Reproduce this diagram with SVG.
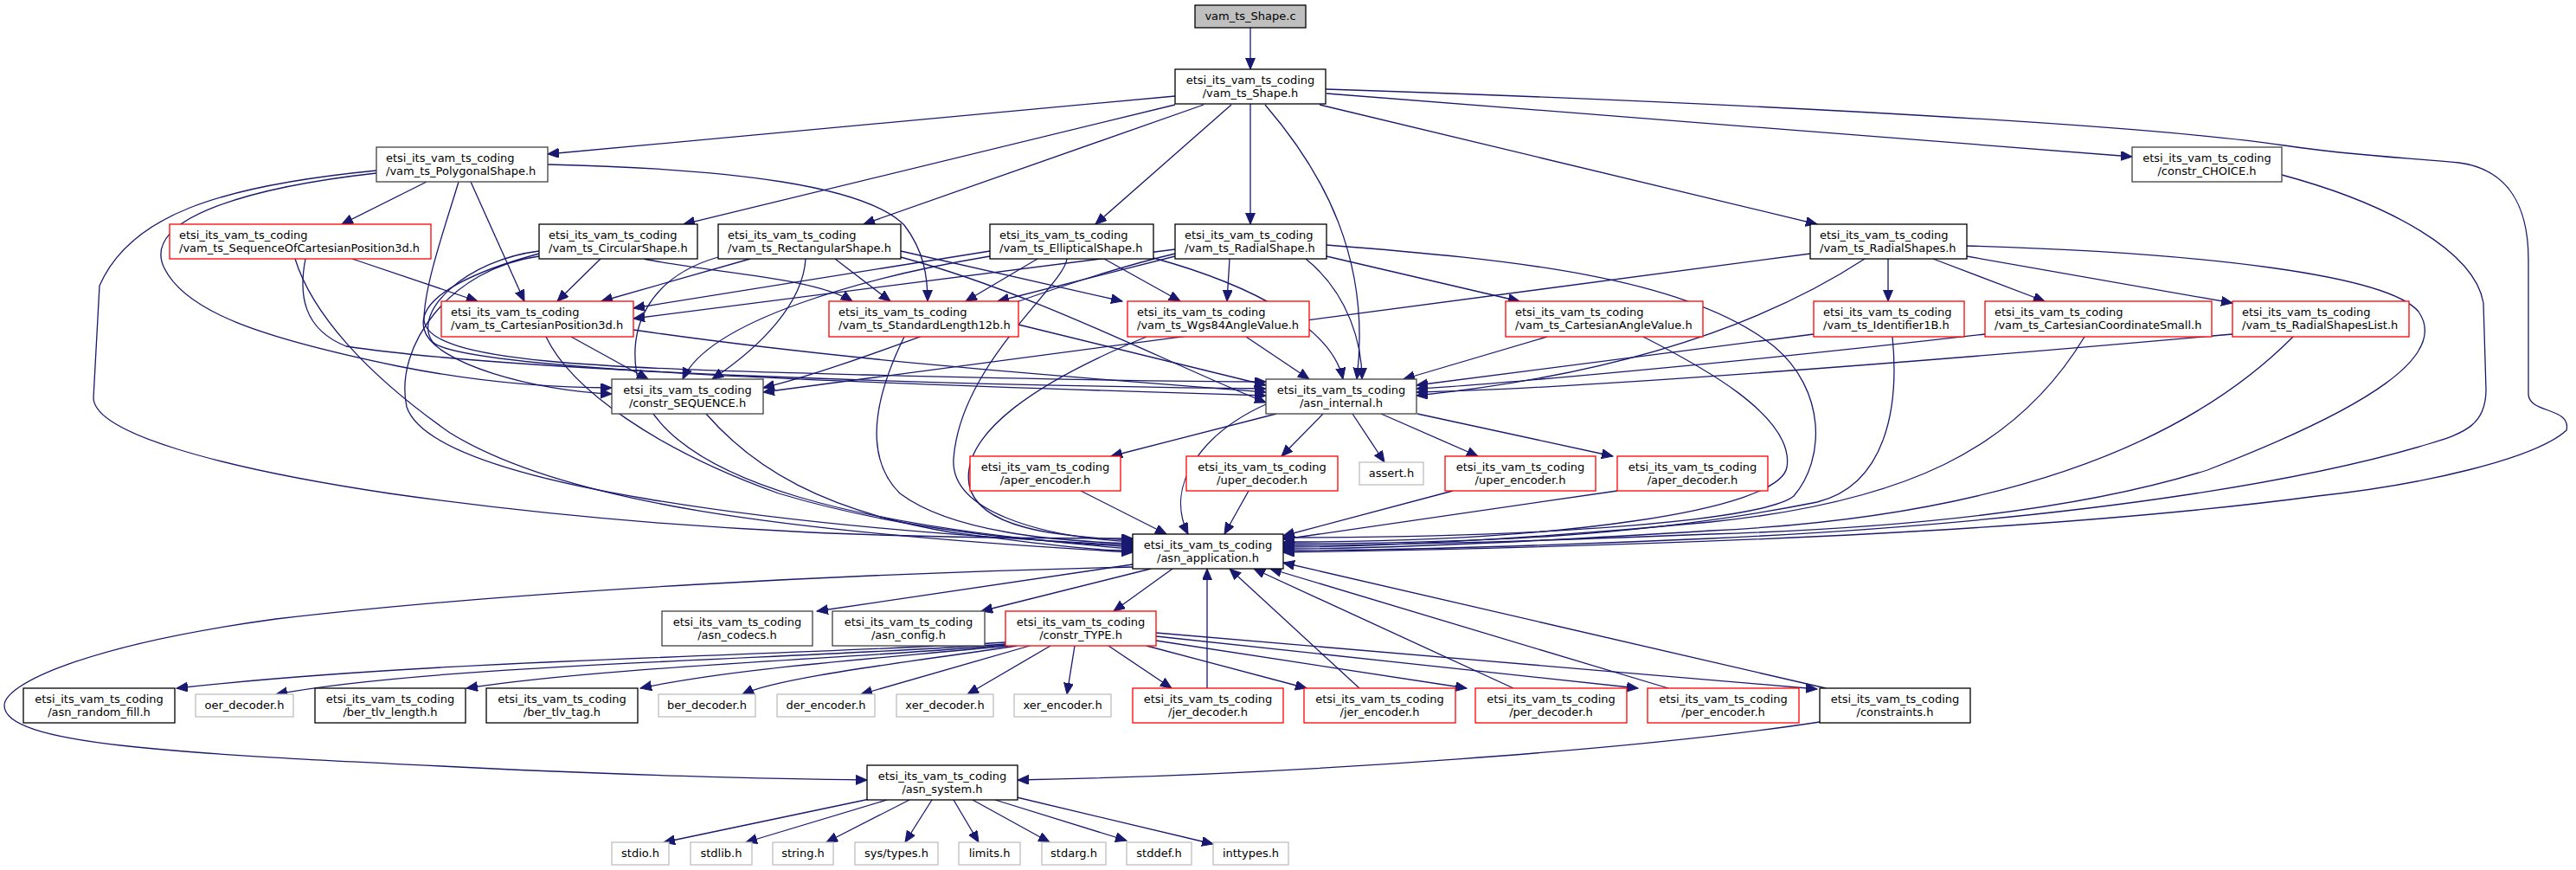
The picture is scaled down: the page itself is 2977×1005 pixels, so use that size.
<svg xmlns="http://www.w3.org/2000/svg" width="2977" height="1005" viewBox="0 0 2977 1005">
<defs>
<style>
.e{fill:none;stroke:#191970;stroke-width:1.3;marker-end:url(#ah)}
rect{fill:#fff;stroke-width:1.3}
.k rect{stroke:#000}
.d rect{stroke:#404040}
.r rect{stroke:#ff0000}
.g rect{stroke:#bfbfbf}
.t rect{fill:#bfbfbf;stroke:#000}
text{font-family:"DejaVu Sans","Liberation Sans",sans-serif;font-size:13px;fill:#000}
.m{text-anchor:middle}
</style>
<marker id="ah" markerUnits="userSpaceOnUse" markerWidth="14" markerHeight="12" refX="13" refY="5.5" orient="auto"><path d="M0,0 L13,5.5 L0,11 Z" fill="#191970" stroke="#191970" stroke-width="1"/></marker>
</defs>
<rect x="0" y="0" width="2977" height="1005" style="fill:#fff;stroke:none"/>
<g id="edges">
<path class="e" d="M1445,32 L1445,80"/>
<path class="e" d="M1358,111 L633,178"/>
<path class="e" d="M1358,121 L790,259"/>
<path class="e" d="M1391,121 L998,259"/>
<path class="e" d="M1423,121 L1266,259"/>
<path class="e" d="M1445,120 L1445,259"/>
<path class="e" d="M1462,121 C1530,200 1585,300 1568,438"/>
<path class="e" d="M1525,121 L2100,259"/>
<path class="e" d="M1533,108 L2464,181"/>
<path class="e" d="M1532,103 C1900,115 2450,140 2640,168 C2720,180 2780,182 2842,188 C2900,196 2922,240 2922,300 L2922,455 C2922,478 2972,470 2966,497 C2930,530 2800,560 2678,573 C2400,610 2000,630 1483,638"/>
<path class="e" d="M493,210 L395,259"/>
<path class="e" d="M544,210 L606,348"/>
<path class="e" d="M633,190 C850,195 1000,215 1045,260 C1068,290 1072,320 1072,348"/>
<path class="e" d="M435,200 C300,215 160,250 190,310 C215,360 300,390 460,423 C560,443 650,448 707,448"/>
<path class="e" d="M435,197 C250,215 150,250 115,330 L108,460 C110,500 250,540 450,570 C800,620 1100,622 1309,622"/>
<path class="e" d="M530,210 C515,260 490,330 490,370 C495,420 700,425 1000,433 C1200,438 1350,441 1463,441"/>
<path class="e" d="M407,299 L552,348"/>
<path class="e" d="M353,299 C345,340 350,380 400,400 C600,430 1100,445 1463,449"/>
<path class="e" d="M341,299 C360,360 420,430 520,500 C650,580 900,615 1309,638"/>
<path class="e" d="M694,299 L644,348"/>
<path class="e" d="M744,299 C820,315 940,320 985,348"/>
<path class="e" d="M623,293 C560,310 480,340 490,380 C500,420 620,452 707,455"/>
<path class="e" d="M623,290 C540,300 475,360 500,395 C530,425 900,440 1463,457"/>
<path class="e" d="M623,296 C520,310 455,400 470,470 C500,560 900,610 1309,630"/>
<path class="e" d="M867,299 L695,348"/>
<path class="e" d="M965,299 L1029,348"/>
<path class="e" d="M1041,290 L1297,348"/>
<path class="e" d="M931,299 C928,350 880,400 823,438"/>
<path class="e" d="M1041,297 C1200,340 1350,420 1463,465"/>
<path class="e" d="M830,297 C750,320 720,380 740,450 C780,560 1000,610 1309,634"/>
<path class="e" d="M1144,290 L732,356"/>
<path class="e" d="M1199,299 L1116,348"/>
<path class="e" d="M1276,299 L1364,348"/>
<path class="e" d="M1144,296 C1000,320 820,370 789,438"/>
<path class="e" d="M1333,298 C1450,330 1540,380 1552,438"/>
<path class="e" d="M1233,299 C1230,330 1110,420 1102,530 C1098,590 1200,620 1309,626"/>
<path class="e" d="M1358,288 L732,368"/>
<path class="e" d="M1358,296 L1153,348"/>
<path class="e" d="M1421,299 L1418,348"/>
<path class="e" d="M1533,296 L1756,348"/>
<path class="e" d="M1358,293 C1200,330 1000,420 882,448"/>
<path class="e" d="M1509,299 C1560,340 1574,400 1574,438"/>
<path class="e" d="M1533,283 C1750,300 1950,320 2050,400 C2110,450 2110,530 2073,573 C2040,600 1800,621 1483,621"/>
<path class="e" d="M2182,299 L2182,348"/>
<path class="e" d="M2234,299 L2363,348"/>
<path class="e" d="M2273,296 L2580,350"/>
<path class="e" d="M2092,293 L882,453"/>
<path class="e" d="M2155,299 C2000,400 1800,440 1637,457"/>
<path class="e" d="M2273,284 C2550,292 2760,318 2795,360 C2830,410 2740,470 2551,543 C2400,590 2200,610 1977,617 C1800,624 1600,630 1483,630"/>
<path class="e" d="M660,389 L749,438"/>
<path class="e" d="M732,381 C1000,420 1300,440 1463,453"/>
<path class="e" d="M631,389 C660,450 760,520 900,570 C1050,615 1200,625 1309,632"/>
<path class="e" d="M1177,375 L1463,445"/>
<path class="e" d="M1045,389 C1020,440 990,520 1040,570 C1100,615 1220,625 1309,628"/>
<path class="e" d="M1440,389 L1513,438"/>
<path class="e" d="M1325,389 C1200,440 1110,500 1120,560 C1130,610 1220,620 1309,624"/>
<path class="e" d="M1788,389 L1622,438"/>
<path class="e" d="M1899,389 C1960,420 2075,480 2065,540 C2055,590 1800,626 1483,626"/>
<path class="e" d="M2096,386 L1637,445"/>
<path class="e" d="M2187,389 C2195,470 2180,560 2100,580 C1900,620 1700,628 1483,628"/>
<path class="e" d="M2294,386 C2000,420 1700,446 1637,449"/>
<path class="e" d="M2409,389 C2330,520 2200,580 1977,603 C1800,620 1600,632 1483,632"/>
<path class="e" d="M2580,386 C2200,420 1800,450 1637,453"/>
<path class="e" d="M2650,389 C2500,540 2250,600 1977,613 C1800,624 1600,634 1483,634"/>
<path class="e" d="M2637,202 C2760,235 2860,290 2870,350 L2873,450 C2873,490 2850,500 2806,513 C2700,545 2450,600 1977,622 C1800,630 1600,636 1483,636"/>
<path class="e" d="M816,478 C870,540 950,590 1100,615 C1200,628 1260,636 1309,636"/>
<path class="e" d="M1475,478 L1284,527"/>
<path class="e" d="M1529,478 L1481,527"/>
<path class="e" d="M1563,478 L1600,534"/>
<path class="e" d="M1596,478 L1708,527"/>
<path class="e" d="M1638,478 L1864,527"/>
<path class="e" d="M1463,467 C1390,500 1345,560 1373,617"/>
<path class="e" d="M1249,567 L1348,617"/>
<path class="e" d="M1443,567 L1415,617"/>
<path class="e" d="M1679,567 L1483,619"/>
<path class="e" d="M1869,567 L1483,623"/>
<path class="e" d="M1309,652 L944,706"/>
<path class="e" d="M1330,657 L1134,706"/>
<path class="e" d="M1355,657 L1287,706"/>
<path class="e" d="M1309,655 C1000,662 600,682 319,715 C100,745 5,790 5,815 C5,860 200,870 510,885 C700,895 900,900 1002,901"/>
<path class="e" d="M1162,742 C900,758 500,762 204,795"/>
<path class="e" d="M1162,744 C900,762 500,768 319,802"/>
<path class="e" d="M1162,745 C1000,760 700,770 539,795"/>
<path class="e" d="M1165,746 C1000,762 850,772 740,795"/>
<path class="e" d="M1175,746 C1050,765 900,782 858,802"/>
<path class="e" d="M1190,746 L995,802"/>
<path class="e" d="M1214,746 L1118,802"/>
<path class="e" d="M1242,746 L1233,802"/>
<path class="e" d="M1281,746 L1354,795"/>
<path class="e" d="M1325,746 L1510,795"/>
<path class="e" d="M1336,740 L1695,795"/>
<path class="e" d="M1336,735 L1893,795"/>
<path class="e" d="M1336,731 L2100,796"/>
<path class="e" d="M1395,795 L1395,657"/>
<path class="e" d="M1571,795 L1421,657"/>
<path class="e" d="M1749,795 L1449,657"/>
<path class="e" d="M1928,795 L1468,657"/>
<path class="e" d="M2110,795 L1483,650"/>
<path class="e" d="M2103,834 C1900,865 1500,895 1176,901"/>
<path class="e" d="M1005,923 L767,973"/>
<path class="e" d="M1025,924 L862,973"/>
<path class="e" d="M1051,924 L955,973"/>
<path class="e" d="M1077,924 L1046,973"/>
<path class="e" d="M1102,924 L1131,973"/>
<path class="e" d="M1124,924 L1213,973"/>
<path class="e" d="M1150,924 L1302,971"/>
<path class="e" d="M1175,921 L1402,975"/>
</g>
<g id="n_c" class="t"><rect x="1381" y="6" width="128" height="26"/><text class="m" x="1445" y="23">vam_ts_Shape.c</text></g>
<g id="n_shape" class="k"><rect x="1358" y="80" width="174" height="40"/><text class="m" x="1445" y="97">etsi_its_vam_ts_coding</text><text class="m" x="1445" y="112">/vam_ts_Shape.h</text></g>
<g id="n_poly" class="d"><rect x="435" y="170" width="198" height="40"/><text x="446" y="187">etsi_its_vam_ts_coding</text><text x="446" y="202">/vam_ts_PolygonalShape.h</text></g>
<g id="n_choice" class="d"><rect x="2464" y="170" width="173" height="40"/><text class="m" x="2550.5" y="187">etsi_its_vam_ts_coding</text><text class="m" x="2550.5" y="202">/constr_CHOICE.h</text></g>
<g id="n_seqcart" class="r"><rect x="196" y="259" width="302" height="40"/><text x="207" y="276">etsi_its_vam_ts_coding</text><text x="207" y="291">/vam_ts_SequenceOfCartesianPosition3d.h</text></g>
<g id="n_circ" class="k"><rect x="623" y="259" width="183" height="40"/><text x="634" y="276">etsi_its_vam_ts_coding</text><text x="634" y="291">/vam_ts_CircularShape.h</text></g>
<g id="n_rect" class="k"><rect x="830" y="259" width="211" height="40"/><text x="841" y="276">etsi_its_vam_ts_coding</text><text x="841" y="291">/vam_ts_RectangularShape.h</text></g>
<g id="n_ellip" class="k"><rect x="1144" y="259" width="189" height="40"/><text x="1155" y="276">etsi_its_vam_ts_coding</text><text x="1155" y="291">/vam_ts_EllipticalShape.h</text></g>
<g id="n_radial" class="k"><rect x="1358" y="259" width="175" height="40"/><text x="1369" y="276">etsi_its_vam_ts_coding</text><text x="1369" y="291">/vam_ts_RadialShape.h</text></g>
<g id="n_radials" class="k"><rect x="2092" y="259" width="181" height="40"/><text x="2103" y="276">etsi_its_vam_ts_coding</text><text x="2103" y="291">/vam_ts_RadialShapes.h</text></g>
<g id="n_cp" class="r"><rect x="510" y="348" width="222" height="41"/><text x="521" y="365">etsi_its_vam_ts_coding</text><text x="521" y="380">/vam_ts_CartesianPosition3d.h</text></g>
<g id="n_sl" class="r"><rect x="958" y="348" width="219" height="41"/><text x="969" y="365">etsi_its_vam_ts_coding</text><text x="969" y="380">/vam_ts_StandardLength12b.h</text></g>
<g id="n_wgs" class="r"><rect x="1303" y="348" width="210" height="41"/><text x="1314" y="365">etsi_its_vam_ts_coding</text><text x="1314" y="380">/vam_ts_Wgs84AngleValue.h</text></g>
<g id="n_ca" class="r"><rect x="1740" y="348" width="228" height="41"/><text x="1751" y="365">etsi_its_vam_ts_coding</text><text x="1751" y="380">/vam_ts_CartesianAngleValue.h</text></g>
<g id="n_id" class="r"><rect x="2096" y="348" width="174" height="41"/><text x="2107" y="365">etsi_its_vam_ts_coding</text><text x="2107" y="380">/vam_ts_Identifier1B.h</text></g>
<g id="n_ccs" class="r"><rect x="2294" y="348" width="262" height="41"/><text x="2305" y="365">etsi_its_vam_ts_coding</text><text x="2305" y="380">/vam_ts_CartesianCoordinateSmall.h</text></g>
<g id="n_rsl" class="r"><rect x="2580" y="348" width="204" height="41"/><text x="2591" y="365">etsi_its_vam_ts_coding</text><text x="2591" y="380">/vam_ts_RadialShapesList.h</text></g>
<g id="n_seq" class="d"><rect x="707" y="438" width="175" height="40"/><text class="m" x="794.5" y="455">etsi_its_vam_ts_coding</text><text class="m" x="794.5" y="470">/constr_SEQUENCE.h</text></g>
<g id="n_int" class="d"><rect x="1463" y="438" width="174" height="40"/><text class="m" x="1550" y="455">etsi_its_vam_ts_coding</text><text class="m" x="1550" y="470">/asn_internal.h</text></g>
<g id="n_aenc" class="r"><rect x="1121" y="527" width="174" height="40"/><text class="m" x="1208" y="544">etsi_its_vam_ts_coding</text><text class="m" x="1208" y="559">/aper_encoder.h</text></g>
<g id="n_udec" class="r"><rect x="1371" y="527" width="175" height="40"/><text class="m" x="1458.5" y="544">etsi_its_vam_ts_coding</text><text class="m" x="1458.5" y="559">/uper_decoder.h</text></g>
<g id="n_assert" class="g"><rect x="1571" y="534" width="74" height="26"/><text class="m" x="1608" y="551">assert.h</text></g>
<g id="n_uenc" class="r"><rect x="1670" y="527" width="174" height="40"/><text class="m" x="1757" y="544">etsi_its_vam_ts_coding</text><text class="m" x="1757" y="559">/uper_encoder.h</text></g>
<g id="n_adec" class="r"><rect x="1869" y="527" width="174" height="40"/><text class="m" x="1956" y="544">etsi_its_vam_ts_coding</text><text class="m" x="1956" y="559">/aper_decoder.h</text></g>
<g id="n_app" class="k"><rect x="1309" y="617" width="174" height="40"/><text class="m" x="1396" y="634">etsi_its_vam_ts_coding</text><text class="m" x="1396" y="649">/asn_application.h</text></g>
<g id="n_codecs" class="d"><rect x="765" y="706" width="174" height="40"/><text class="m" x="852" y="723">etsi_its_vam_ts_coding</text><text class="m" x="852" y="738">/asn_codecs.h</text></g>
<g id="n_config" class="d"><rect x="962" y="706" width="176" height="40"/><text class="m" x="1050" y="723">etsi_its_vam_ts_coding</text><text class="m" x="1050" y="738">/asn_config.h</text></g>
<g id="n_type" class="r"><rect x="1162" y="706" width="174" height="40"/><text class="m" x="1249" y="723">etsi_its_vam_ts_coding</text><text class="m" x="1249" y="738">/constr_TYPE.h</text></g>
<g id="n_rfill" class="k"><rect x="27" y="795" width="175" height="40"/><text class="m" x="114.5" y="812">etsi_its_vam_ts_coding</text><text class="m" x="114.5" y="827">/asn_random_fill.h</text></g>
<g id="n_oer" class="g"><rect x="226" y="802" width="113" height="26"/><text class="m" x="282.5" y="819">oer_decoder.h</text></g>
<g id="n_tlvlen" class="k"><rect x="364" y="795" width="174" height="40"/><text class="m" x="451" y="812">etsi_its_vam_ts_coding</text><text class="m" x="451" y="827">/ber_tlv_length.h</text></g>
<g id="n_tlvtag" class="k"><rect x="562" y="795" width="175" height="40"/><text class="m" x="649.5" y="812">etsi_its_vam_ts_coding</text><text class="m" x="649.5" y="827">/ber_tlv_tag.h</text></g>
<g id="n_berdec" class="g"><rect x="761" y="802" width="112" height="26"/><text class="m" x="817" y="819">ber_decoder.h</text></g>
<g id="n_derenc" class="g"><rect x="898" y="802" width="113" height="26"/><text class="m" x="954.5" y="819">der_encoder.h</text></g>
<g id="n_xerdec" class="g"><rect x="1036" y="802" width="112" height="26"/><text class="m" x="1092" y="819">xer_decoder.h</text></g>
<g id="n_xerenc" class="g"><rect x="1172" y="802" width="112" height="26"/><text class="m" x="1228" y="819">xer_encoder.h</text></g>
<g id="n_jerdec" class="r"><rect x="1309" y="795" width="174" height="40"/><text class="m" x="1396" y="812">etsi_its_vam_ts_coding</text><text class="m" x="1396" y="827">/jer_decoder.h</text></g>
<g id="n_jerenc" class="r"><rect x="1507" y="795" width="175" height="40"/><text class="m" x="1594.5" y="812">etsi_its_vam_ts_coding</text><text class="m" x="1594.5" y="827">/jer_encoder.h</text></g>
<g id="n_perdec" class="r"><rect x="1705" y="795" width="175" height="40"/><text class="m" x="1792.5" y="812">etsi_its_vam_ts_coding</text><text class="m" x="1792.5" y="827">/per_decoder.h</text></g>
<g id="n_perenc" class="r"><rect x="1904" y="795" width="175" height="40"/><text class="m" x="1991.5" y="812">etsi_its_vam_ts_coding</text><text class="m" x="1991.5" y="827">/per_encoder.h</text></g>
<g id="n_constr" class="k"><rect x="2103" y="795" width="174" height="40"/><text class="m" x="2190" y="812">etsi_its_vam_ts_coding</text><text class="m" x="2190" y="827">/constraints.h</text></g>
<g id="n_sys" class="k"><rect x="1002" y="884" width="174" height="40"/><text class="m" x="1089" y="901">etsi_its_vam_ts_coding</text><text class="m" x="1089" y="916">/asn_system.h</text></g>
<g id="n_stdio" class="g"><rect x="707" y="973" width="66" height="26"/><text class="m" x="740" y="990">stdio.h</text></g>
<g id="n_stdlib" class="g"><rect x="798" y="973" width="71" height="26"/><text class="m" x="833.5" y="990">stdlib.h</text></g>
<g id="n_string" class="g"><rect x="893" y="973" width="70" height="26"/><text class="m" x="928" y="990">string.h</text></g>
<g id="n_systypes" class="g"><rect x="988" y="973" width="96" height="26"/><text class="m" x="1036" y="990">sys/types.h</text></g>
<g id="n_limits" class="g"><rect x="1108" y="973" width="71" height="26"/><text class="m" x="1143.5" y="990">limits.h</text></g>
<g id="n_stdarg" class="g"><rect x="1204" y="973" width="74" height="26"/><text class="m" x="1241" y="990">stdarg.h</text></g>
<g id="n_stddef" class="g"><rect x="1302" y="973" width="75" height="26"/><text class="m" x="1339.5" y="990">stddef.h</text></g>
<g id="n_inttypes" class="g"><rect x="1402" y="973" width="87" height="26"/><text class="m" x="1445.5" y="990">inttypes.h</text></g>
</svg>
